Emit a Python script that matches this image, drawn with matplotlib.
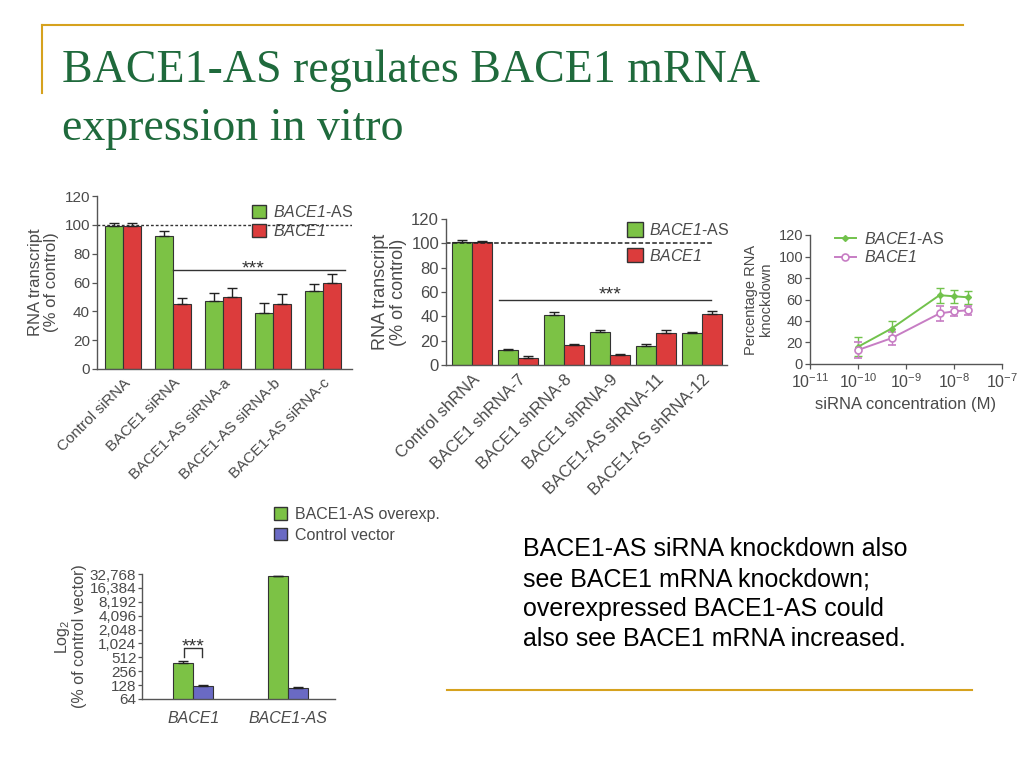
import numpy as np
import matplotlib
matplotlib.use('Agg')
import matplotlib.pyplot as plt
from matplotlib.patches import Patch
from matplotlib.lines import Line2D
from matplotlib.ticker import FixedLocator, FuncFormatter, NullLocator

plt.rcParams['font.family'] = ['Liberation Sans', 'DejaVu Sans']
# math "rm" is used only for the italic gene names (BACE1) in legends
plt.rcParams['mathtext.fontset'] = 'custom'
plt.rcParams['mathtext.rm'] = 'Liberation Sans:italic'
plt.rcParams['mathtext.it'] = 'Liberation Sans:italic'

# ---- panel 1: siRNA ----
si_groups = ['Control siRNA', 'BACE1 siRNA', 'BACE1-AS siRNA-a',
             'BACE1-AS siRNA-b', 'BACE1-AS siRNA-c']
si_as = [99, 92, 47, 39, 54]
si_as_err = [2, 4, 6, 7, 5]
si_b1 = [99, 45, 50, 45, 60]
si_b1_err = [2, 4, 6, 7, 6]

# ---- panel 2: shRNA ----
sh_groups = ['Control shRNA', 'BACE1 shRNA-7', 'BACE1 shRNA-8', 'BACE1 shRNA-9',
             'BACE1-AS shRNA-11', 'BACE1-AS shRNA-12']
sh_as = [101, 12, 41, 27.5, 16, 26]
sh_as_err = [1.5, 1.5, 2.5, 1, 1.5, 1]
sh_b1 = [101, 6, 16.5, 8, 26.5, 42]
sh_b1_err = [1, 1, 1, 1, 2, 2]

# ---- panel 3: dose response ----
conc = [1e-10, 5e-10, 5e-9, 1e-8, 2e-8]
kd_as = [16, 33, 64, 63, 62]
kd_as_err = [9, 7, 7, 6, 6]
kd_b1 = [13, 24, 47, 49, 50]
kd_b1_err = [7, 6, 7, 4, 4]

# ---- panel 4: overexpression ----
ov_groups = ['BACE1', 'BACE1-AS']
ov_over = [390, 29000]
ov_over_err = [30, 1200]
ov_ctrl = [122, 111]
ov_ctrl_err = [6, 5]
ov_ticks = [64, 128, 256, 512, 1024, 2048, 4096, 8192, 16384, 32768]

GREEN = '#7cc245'
RED = '#dc3c3c'
BLUE = '#6a6ac4'
PINK = '#c77dc4'
LGREEN = '#72c24c'
GOLD = '#d6a21e'
TXT = '#4a4a4a'
W, H = 1024, 768


def px(x0, y0, x1, y1):
    return [x0 / W, 1 - y1 / H, (x1 - x0) / W, (y1 - y0) / H]


def style(ax, fs=10):
    for s in ['top', 'right']:
        ax.spines[s].set_visible(False)
    for s in ['left', 'bottom']:
        ax.spines[s].set_color('#555555')
        ax.spines[s].set_linewidth(1.0)
    ax.tick_params(colors='#555555', labelcolor=TXT, labelsize=fs,
                   length=3.5, width=0.9, direction='out', pad=1.5)


ekw = dict(lw=1, capthick=1, ecolor='#222222')

fig = plt.figure(figsize=(10.24, 7.68), dpi=100)

# slide decoration
fig.add_artist(Line2D([42 / W, 963 / W], [1 - 25 / H, 1 - 25 / H], color=GOLD, lw=1.5))
fig.add_artist(Line2D([42 / W, 42 / W], [1 - 25 / H, 1 - 93 / H], color=GOLD, lw=1.5))
fig.add_artist(Line2D([447 / W, 972 / W], [1 - 690 / H, 1 - 690 / H], color=GOLD, lw=1.5))
fig.text(62 / W, 1 - 82 / H, 'BACE1-AS regulates BACE1 mRNA', family='Liberation Serif',
         fontsize=33, color='#1f6a3c', va='baseline')
fig.text(62 / W, 1 - 140 / H, 'expression in vitro', family='Liberation Serif',
         fontsize=33, color='#1f6a3c', va='baseline')
fig.text(523 / W, 1 - 537 / H,
         'BACE1-AS siRNA knockdown also\nsee BACE1 mRNA knockdown;\n'
         'overexpressed BACE1-AS could\nalso see BACE1 mRNA increased.',
         fontsize=18, color='black', va='top', linespacing=1.32)

lab_as = r'$\mathrm{BACE1}$-AS'
lab_b1 = r'$\mathrm{BACE1}$'

# ---------------- panel 1 ----------------
ax1 = fig.add_axes(px(97, 196, 352, 369))
x = np.arange(len(si_groups))
bw = 0.36
ax1.bar(x - bw / 2, si_as, bw, color=GREEN, edgecolor='#333333', lw=0.8,
        yerr=[np.zeros(len(x)), si_as_err], capsize=3.5, error_kw=ekw)
ax1.bar(x + bw / 2, si_b1, bw, color=RED, edgecolor='#333333', lw=0.8,
        yerr=[np.zeros(len(x)), si_b1_err], capsize=3.5, error_kw=ekw)
ax1.set_xlim(-0.52, 4.58)
ax1.set_ylim(0, 120)
ax1.set_yticks(range(0, 121, 20))
ax1.axhline(100, color='#333333', ls=(0, (2, 1.5)), lw=1)
ax1.plot([1.0, 4.44], [68.5, 68.5], color='#333333', lw=1)
ax1.text(2.6, 66, '***', ha='center', va='baseline', fontsize=14, color='#333333')
ax1.set_xticks(x)
ax1.set_xticklabels(si_groups, rotation=45, ha='right', va='top', rotation_mode='anchor')
style(ax1, 11)
ax1.tick_params(axis='x', length=0, pad=5)
ax1.set_ylabel('RNA transcript\n(% of control)', color=TXT, fontsize=12, labelpad=4, linespacing=1.05)
ax1.legend([Patch(facecolor=GREEN, edgecolor='#333333'), Patch(facecolor=RED, edgecolor='#333333')],
           [lab_as, lab_b1], loc='upper left', bbox_to_anchor=(244 / W, 1 - 196 / H),
           bbox_transform=fig.transFigure, frameon=False, fontsize=11.5, handlelength=0.9,
           handleheight=0.85, handletextpad=0.4, labelspacing=0.2, borderpad=0, labelcolor=TXT)

# ---------------- panel 2 ----------------
ax2 = fig.add_axes(px(446, 219, 727, 365))
x = np.arange(len(sh_groups))
bw = 0.43
ax2.bar(x - bw / 2, sh_as, bw, color=GREEN, edgecolor='#333333', lw=0.8,
        yerr=[np.zeros(len(x)), sh_as_err], capsize=3.5, error_kw=ekw)
ax2.bar(x + bw / 2, sh_b1, bw, color=RED, edgecolor='#333333', lw=0.8,
        yerr=[np.zeros(len(x)), sh_b1_err], capsize=3.5, error_kw=ekw)
ax2.set_xlim(-0.56, 5.54)
ax2.set_ylim(0, 120)
ax2.set_yticks(range(0, 121, 20))
ax2.plot([-0.56, 5.23], [100, 100], color='#222222', ls=(0, (3, 1.5)), lw=1.1)
ax2.plot([0.6, 5.2], [53.5, 53.5], color='#333333', lw=1)
ax2.text(3.0, 53.5, '***', ha='center', va='baseline', fontsize=14, color='#333333')
ax2.set_xticks(x)
ax2.set_xticklabels(sh_groups, rotation=45, ha='right', va='top', rotation_mode='anchor')
style(ax2, 12)
ax2.tick_params(axis='x', length=0, pad=5)
ax2.set_ylabel('RNA transcript\n(% of control)', color=TXT, fontsize=13, labelpad=3, linespacing=1.1)
ax2.legend([Patch(facecolor=GREEN, edgecolor='#333333'), Patch(facecolor=RED, edgecolor='#333333')],
           [lab_as, lab_b1], loc='upper left', bbox_to_anchor=(619 / W, 1 - 214 / H),
           bbox_transform=fig.transFigure, frameon=False, fontsize=11.5, handlelength=1.0,
           handleheight=1.0, handletextpad=0.4, labelspacing=0.6, borderpad=0, labelcolor=TXT)

# ---------------- panel 3 ----------------
ax3 = fig.add_axes(px(810, 235, 1002, 364))
ax3.set_xscale('log')
ax3.errorbar(conc, kd_as, yerr=kd_as_err, color=LGREEN, marker='D', ms=3, mfc=LGREEN,
             lw=1.4, capsize=3, elinewidth=1, capthick=1)
ax3.errorbar(conc, kd_b1, yerr=kd_b1_err, color=PINK, marker='o', ms=5, mfc='white', mew=1.2,
             lw=1.4, capsize=3, elinewidth=1, capthick=1)
ax3.set_xlim(1e-11, 1e-7)
ax3.set_ylim(0, 120)
ax3.set_yticks(range(0, 121, 20))
ax3.set_xticks([1e-11, 1e-10, 1e-9, 1e-8, 1e-7])
ax3.xaxis.set_minor_locator(NullLocator())
style(ax3, 10.5)
ax3.tick_params(axis='x', labelsize=11.5, pad=2.5)
ax3.set_ylabel('Percentage RNA\nknockdown', color=TXT, fontsize=10.5, labelpad=4, linespacing=1.05)
ax3.set_xlabel('siRNA concentration (M)', color=TXT, fontsize=12, labelpad=4)
ax3.legend([Line2D([], [], color=LGREEN, marker='D', ms=3, lw=1.4),
            Line2D([], [], color=PINK, marker='o', ms=5, mfc='white', mew=1.2, lw=1.4)],
           [lab_as, lab_b1], loc='upper left', bbox_to_anchor=(827 / W, 1 - 223 / H),
           bbox_transform=fig.transFigure, frameon=False, fontsize=11.5, handlelength=1.3,
           handletextpad=0.5, labelspacing=0.15, borderpad=0, labelcolor=TXT)

# ---------------- panel 4 ----------------
ax4 = fig.add_axes(px(142, 574, 335, 699))
ax4.set_yscale('log', base=2)
x = np.arange(len(ov_groups))
bw = 0.21
ax4.bar(x - bw / 2, ov_over, bw, color=GREEN, edgecolor='#333333', lw=0.8,
        yerr=[np.zeros(len(x)), ov_over_err], capsize=3.5, error_kw=ekw)
ax4.bar(x + bw / 2, ov_ctrl, bw, color=BLUE, edgecolor='#333333', lw=0.8,
        yerr=[np.zeros(len(x)), ov_ctrl_err], capsize=3.5, error_kw=ekw)
ax4.set_xlim(-0.54, 1.49)
ax4.set_ylim(64, 32768)
ax4.yaxis.set_major_locator(FixedLocator(ov_ticks))
ax4.yaxis.set_minor_locator(NullLocator())
ax4.yaxis.set_major_formatter(FuncFormatter(lambda v, p: '{:,}'.format(int(round(v)))))
ax4.plot([-0.095, -0.095, 0.095, 0.095], [520, 815, 815, 520], color='#333333', lw=1)
ax4.text(0, 700, '***', ha='center', va='baseline', fontsize=14, color='#333333')
ax4.set_xticks(x)
ax4.set_xticklabels(ov_groups, fontstyle='italic')
style(ax4, 11)
ax4.tick_params(axis='x', length=0, pad=8.5)
ax4.tick_params(axis='y', length=3, pad=1)
for t in ax4.get_xticklabels():
    t.set_fontsize(11.5)
ax4.set_ylabel(r'Log$_\mathdefault{2}$' + '\n(% of control vector)', color=TXT, fontsize=11.5,
               labelpad=2, linespacing=1.0)
ax4.legend([Patch(facecolor=GREEN, edgecolor='#333333'), Patch(facecolor=BLUE, edgecolor='#333333')],
           ['BACE1-AS overexp.', 'Control vector'], loc='upper left', bbox_to_anchor=(266 / W, 1 - 499 / H),
           bbox_transform=fig.transFigure, frameon=False, fontsize=11.5, handlelength=0.8,
           handleheight=0.8, handletextpad=0.5, labelspacing=0.35, borderpad=0, labelcolor=TXT)

fig.savefig('out.png', dpi=100)
